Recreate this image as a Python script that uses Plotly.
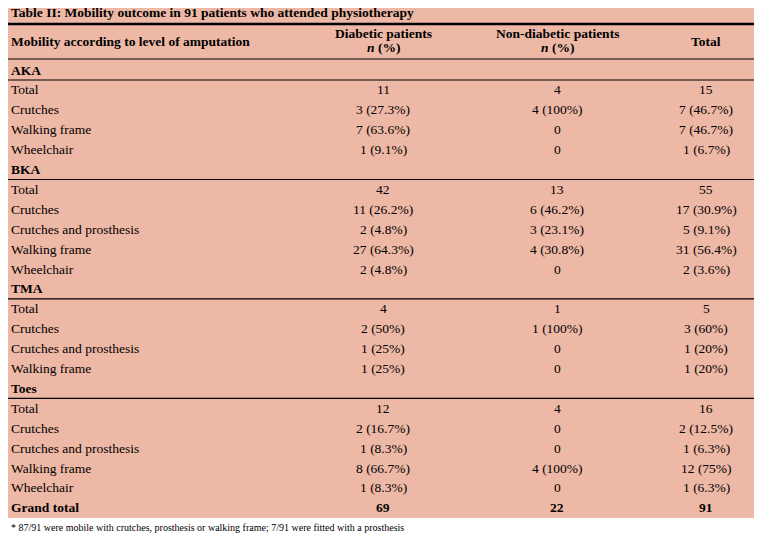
import plotly.graph_objects as go

title = "Table II: Mobility outcome in 91 patients who attended physiotherapy"
footnote = "* 87/91 were mobile with crutches, prosthesis or walking frame; 7/91 were fitted with a prosthesis"

labels = ["AKA", "Total", "Crutches", "Walking frame", "Wheelchair",
          "BKA", "Total", "Crutches", "Crutches and prosthesis", "Walking frame", "Wheelchair",
          "TMA", "Total", "Crutches", "Crutches and prosthesis", "Walking frame",
          "Toes", "Total", "Crutches", "Crutches and prosthesis", "Walking frame", "Wheelchair",
          "Grand total"]
diabetic = ["", "11", "3 (27.3%)", "7 (63.6%)", "1 (9.1%)",
            "", "42", "11 (26.2%)", "2 (4.8%)", "27 (64.3%)", "2 (4.8%)",
            "", "4", "2 (50%)", "1 (25%)", "1 (25%)",
            "", "12", "2 (16.7%)", "1 (8.3%)", "8 (66.7%)", "1 (8.3%)",
            "69"]
non_diabetic = ["", "4", "4 (100%)", "0", "0",
                "", "13", "6 (46.2%)", "3 (23.1%)", "4 (30.8%)", "0",
                "", "1", "1 (100%)", "0", "0",
                "", "4", "0", "0", "4 (100%)", "0",
                "22"]
total = ["", "15", "7 (46.7%)", "7 (46.7%)", "1 (6.7%)",
         "", "55", "17 (30.9%)", "5 (9.1%)", "31 (56.4%)", "2 (3.6%)",
         "", "5", "3 (60%)", "1 (20%)", "1 (20%)",
         "", "16", "2 (12.5%)", "1 (6.3%)", "12 (75%)", "1 (6.3%)",
         "91"]
sections = ["AKA", "BKA", "TMA", "Toes"]

font = "Liberation Serif, Times New Roman, serif"
bg = "#EEB8A6"
col_x = [383, 557, 706]

fig = go.Figure()
ann = []
shapes = [
    dict(type="rect", x0=0, x1=770, y0=0, y1=518, fillcolor=bg, line_width=0, layer="below"),
    dict(type="line", x0=0, x1=770, y0=24, y1=24, line=dict(color="black", width=2.5)),
    dict(type="line", x0=0, x1=770, y0=59, y1=59, line=dict(color="black", width=1.2)),
]

def txt(x, y, s, bold=False, anchor="center", size=13.5):
    if bold:
        s = "<b>" + s + "</b>"
    ann.append(dict(x=x, y=y, text=s, showarrow=False, xanchor=anchor, yanchor="middle",
                    font=dict(family=font, size=size, color="black")))

txt(9, 12, title, bold=True, anchor="left", size=13.5)
txt(9, 41, "Mobility according to level of amputation", bold=True, anchor="left")
txt(col_x[0], 33, "Diabetic patients", bold=True)
txt(col_x[0], 47, "<i>n</i> (%)", bold=True)
txt(col_x[1], 33, "Non-diabetic patients", bold=True)
txt(col_x[1], 47, "<i>n</i> (%)", bold=True)
txt(col_x[2], 41, "Total", bold=True)

for i, lab in enumerate(labels):
    y = 70 + i * 19.9
    bold = lab in sections or lab == "Grand total"
    header = lab in sections and diabetic[i] == ""
    txt(9, y, lab, bold=bold, anchor="left")
    for x, v in zip(col_x, [diabetic[i], non_diabetic[i], total[i]]):
        if v:
            txt(x, y, v, bold=bold)
    if header:
        shapes.append(dict(type="line", x0=0, x1=770, y0=y + 10, y1=y + 10,
                           line=dict(color="black", width=1.2)))

txt(9, 527, footnote, anchor="left", size=10)

# the page is drawn 8px in from the corner, so the axes start at 8
fig.update_layout(
    width=754, height=528, margin=dict(l=0, r=0, t=0, b=0),
    paper_bgcolor="white", plot_bgcolor="white",
    xaxis=dict(range=[8, 762], visible=False, fixedrange=True),
    yaxis=dict(range=[536, 8], visible=False, fixedrange=True),
    annotations=ann, shapes=shapes, showlegend=False,
)
fig.write_html("out.html")
